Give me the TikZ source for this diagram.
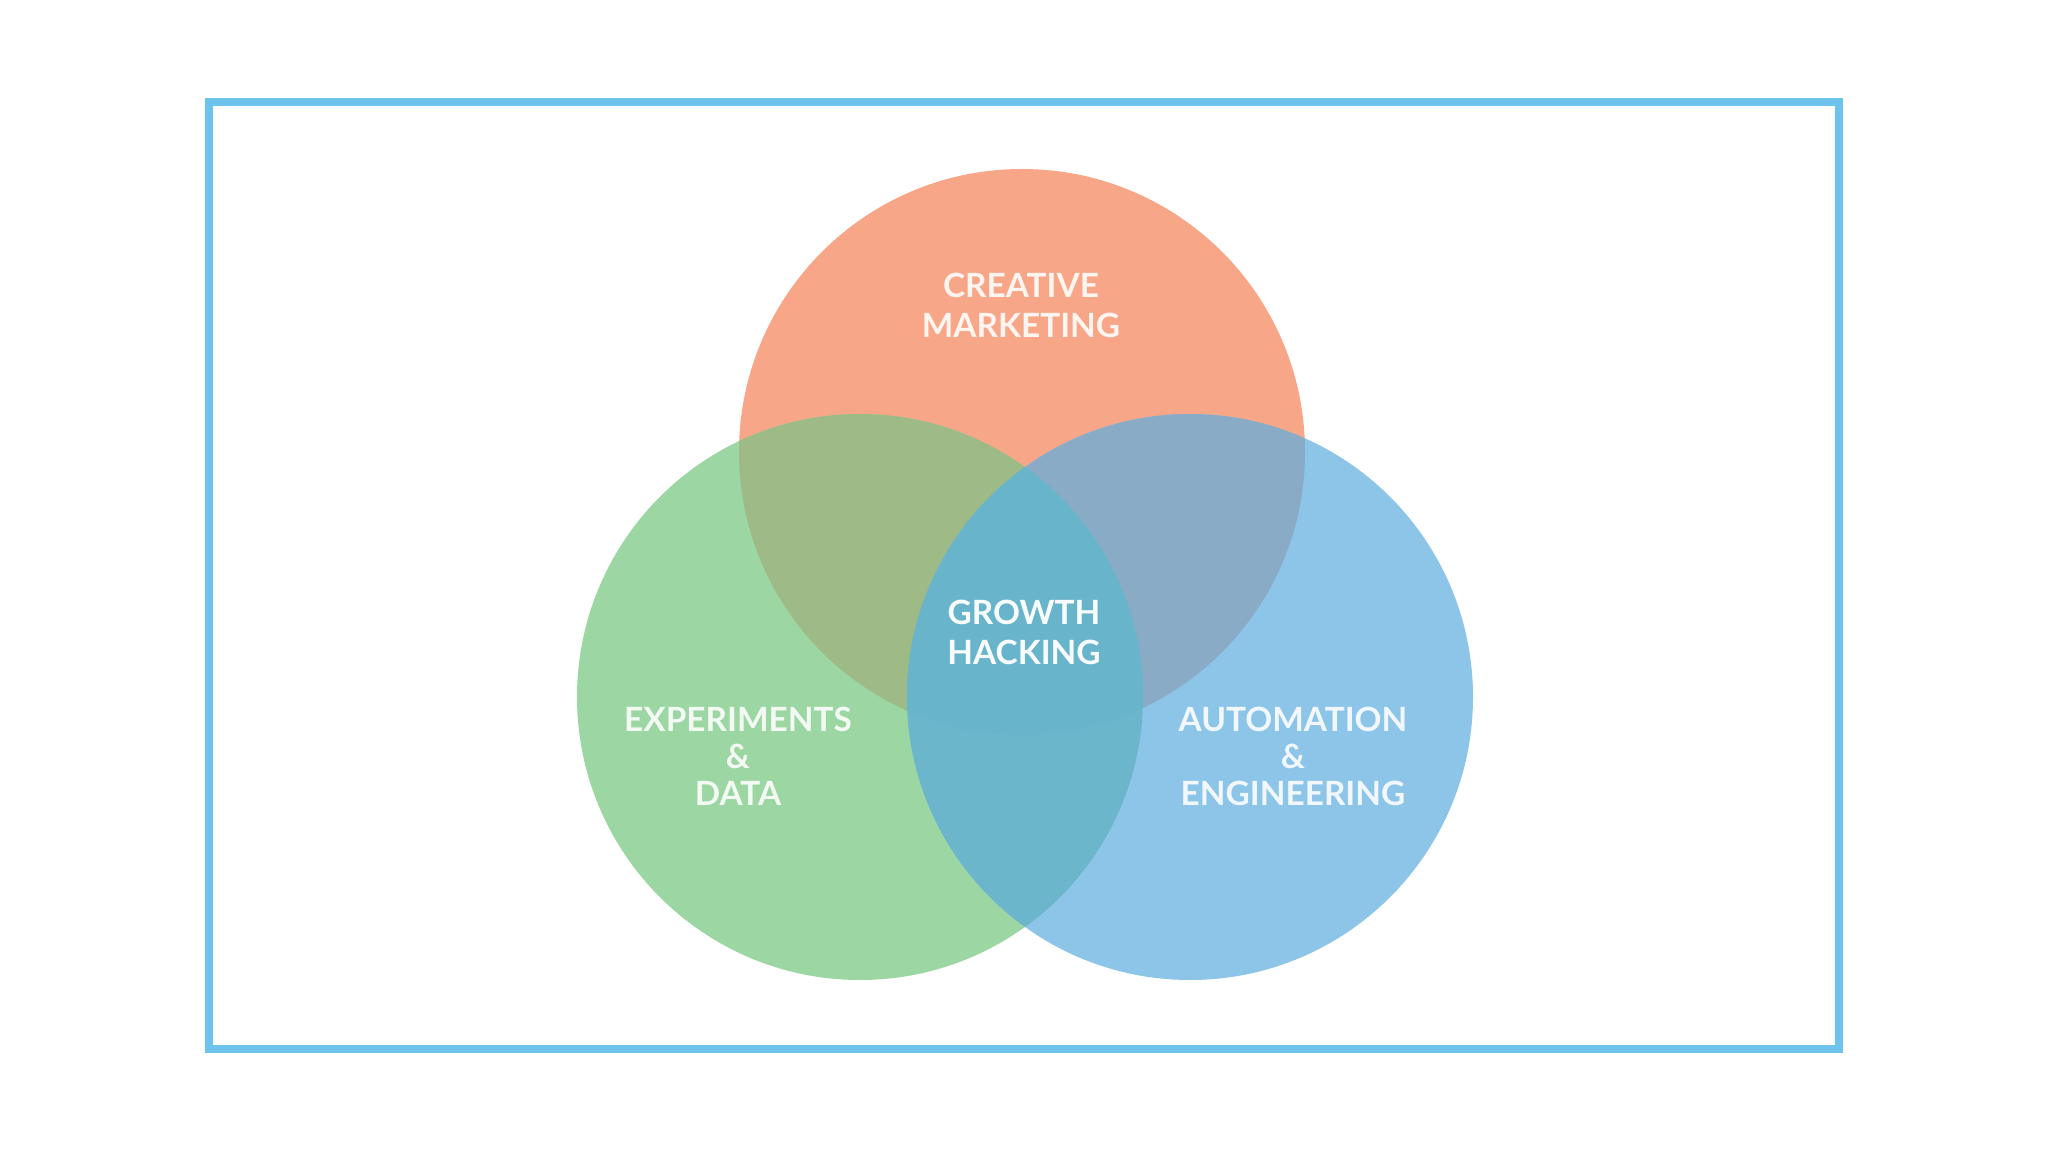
\documentclass[tikz,border=0pt]{standalone}
\usepackage{fontspec}
\setmainfont{Lato}
\usepackage{xcolor}
\usepackage{tikz}
\usetikzlibrary{positioning}
\definecolor{edge}{HTML}{6CC3EC}
\definecolor{creat}{HTML}{F8A688}
\definecolor{exper}{HTML}{9CD6A2}
\definecolor{autom}{HTML}{8CC5E8}
\definecolor{createxper}{HTML}{9EBA86}
\definecolor{creatautom}{HTML}{8AABC5}
\definecolor{experautom}{HTML}{6BB6CB}
\definecolor{core}{HTML}{68B4CA}
\tikzset{
  lbl/.style={align=center, text=white, text opacity=0.88, inner sep=0pt,
    font=\bfseries\fontsize{9.5}{11.4}\selectfont},
  lbl3/.style={lbl, font=\bfseries\fontsize{9.5}{10.5}\selectfont},
  corelbl/.style={lbl, text opacity=0.96}
}
\begin{document}
\begin{tikzpicture}[x=0.01cm, y=-0.01cm]
\useasboundingbox (0,0) rectangle (2048,1152);
\fill[white] (0,0) rectangle (2048,1152);
\draw[edge, line width=0.08cm] (209,102) rectangle (1839,1049);
\coordinate (c) at (1022,452);
\coordinate (e) at (860,697);
\coordinate (a) at (1190,697);
% the three sets
\foreach \p/\col in {c/creat, e/exper, a/autom}
  \fill[\col] (\p) circle[radius=283];
% pairwise overlaps
\begin{scope}
  \clip (c) circle[radius=283];
  \fill[createxper] (e) circle[radius=283];
  \fill[creatautom] (a) circle[radius=283];
\end{scope}
\begin{scope}
  \clip (e) circle[radius=283];
  \fill[experautom] (a) circle[radius=283];
  \clip (a) circle[radius=283];
  \fill[core] (c) circle[radius=283];
\end{scope}
\node[lbl] (creative) at (1021,305) {CREATIVE\\MARKETING};
\node[corelbl] (growth) at (1024,632) {GROWTH\\HACKING};
\node[lbl3] (experiments) at (738,756) {EXPERIMENTS\\\&\\DATA};
\node[lbl3] (automation) at (1293,756) {AUTOMATION\\\&\\ENGINEERING};
\end{tikzpicture}
\end{document}
